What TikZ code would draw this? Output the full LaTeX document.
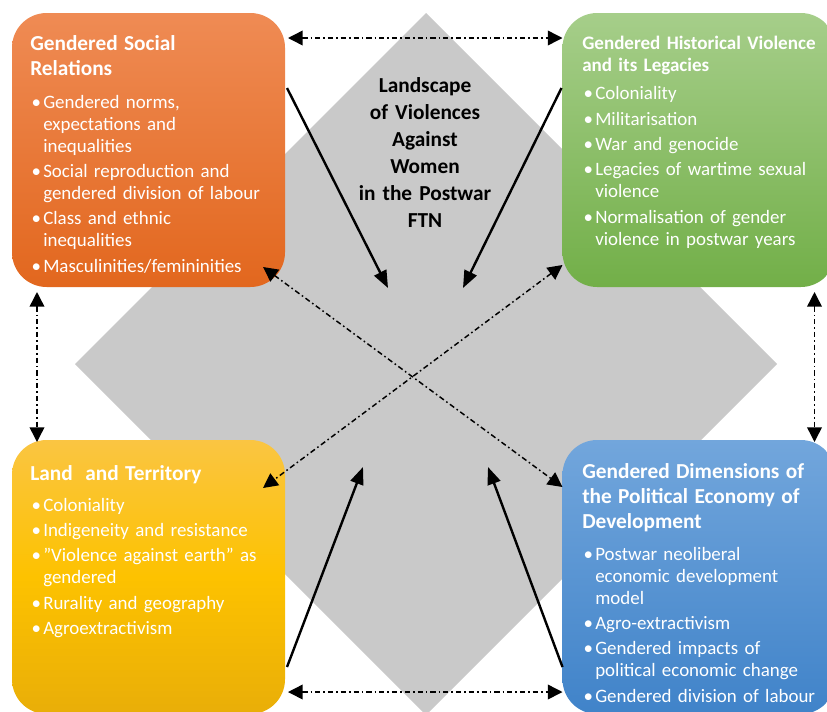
\documentclass[tikz,border=0pt]{standalone}
\usepackage{fontspec}
\setmainfont{Carlito}[WordSpace=0.8]
\usetikzlibrary{arrows.meta,calc}

\definecolor{srtop}{RGB}{239,139,84}
\definecolor{srbot}{RGB}{226,103,30}
\definecolor{hvtop}{RGB}{166,206,138}
\definecolor{hvbot}{RGB}{114,175,72}
\definecolor{lttop}{RGB}{250,197,66}
\definecolor{ltmid}{RGB}{253,194,0}
\definecolor{ltbot}{RGB}{233,174,8}
\definecolor{petop}{RGB}{114,166,220}
\definecolor{pebot}{RGB}{64,131,201}
\definecolor{field}{RGB}{201,201,201}

\setlength{\parindent}{0pt}
% bold heading of a card, #1 = space before the first item
\newcommand{\headsize}{\fontsize{16}{18.75}\selectfont}
\newcommand{\cardhead}[2][7.5pt]{{\bfseries\headsize #2\par}\vspace{#1}}
% one bullet item, wrapped lines hang under the text
\newcommand{\bitem}[1]{\par\hangindent=9.75pt\hangafter=1\noindent
  \makebox[9.75pt][l]{\hspace{1pt}\textbullet}#1\par\vspace{2.5pt}}

\begin{document}
\begin{tikzpicture}[x=0.75pt,y=-0.75pt,
  card/.style={rounded corners=26pt,minimum width=204.75pt,minimum height=205.5pt,
    inner sep=0pt,outer sep=0pt},
  cardtext/.style={anchor=base west,inner sep=0pt,text=white,text width=240pt,
    align=left,font=\fontsize{14.2}{16.5}\selectfont},
  leads/.style={line width=1.8pt,-{Triangle[length=13pt,width=10pt]}},
  link/.style={line width=1.1pt,dash pattern=on 4pt off 2.2pt on 1.2pt off 2.2pt,
    {Triangle[length=11pt,width=11pt]}-{Triangle[length=11pt,width=11pt]}}]
\useasboundingbox (0,0) rectangle (827,711);

% grey field behind everything
\fill[field] (426,13) -- (777,364) -- (426,715) -- (75,364) -- cycle;

% the four cards
\node[card,top color=srtop,bottom color=srbot] (sr) at (148.5,150) {};
\node[card,top color=hvtop,bottom color=hvbot] (hv) at (699,150) {};
\node[card,top color=lttop,bottom color=ltbot,middle color=ltmid] (lt) at (148.5,577) {};
\node[card,top color=petop,bottom color=pebot] (pe) at (699,577) {};

\node[cardtext] (srtext) at (30,50) {%
  \cardhead[8.25pt]{Gendered Social\\Relations}
  \bitem{Gendered norms,\newline expectations and\newline inequalities}
  \bitem{Social reproduction and\newline gendered division of labour}
  \bitem{Class and ethnic\newline inequalities}
  \bitem{Masculinities/femininities}};

\node[cardtext] (hvtext) at (582,49) {%
  \cardhead[4.5pt]{\fontsize{14.3}{17}\selectfont Gendered Historical Violence\\and its Legacies}
  \bitem{Coloniality}
  \bitem{Militarisation}
  \bitem{War and genocide}
  \bitem{Legacies of wartime sexual\newline violence}
  \bitem{Normalisation of gender\newline violence in postwar years}};

\node[cardtext] (lttext) at (30,480) {%
  \cardhead[6.75pt]{Land~ and Territory}
  \bitem{Coloniality}
  \bitem{Indigeneity and resistance}
  \bitem{\char"22 Violence against earth\char"22{} as\newline gendered}
  \bitem{Rurality and geography}
  \bitem{Agroextractivism}};

\node[cardtext] (petext) at (582,478) {%
  \cardhead[7.5pt]{Gendered Dimensions of\\the Political Economy of\\Development}
  \bitem{Postwar neoliberal\newline economic development\newline model}
  \bitem{Agro-extractivism}
  \bitem{Gendered impacts of\newline political economic change}
  \bitem{Gendered division of labour}};

% centre heading
\node[anchor=base,inner sep=0pt,text width=150pt,align=center,
  font=\bfseries\fontsize{16}{20.25}\selectfont] (title) at (425,92)
  {Landscape\\of Violences\\Against\\Women\\in the Postwar\\FTN};

% arrows into the centre
\coordinate (srin) at (388,288);
\coordinate (hvin) at (463,288);
\coordinate (ltin) at (363,467);
\coordinate (pein) at (488,467);
\draw[leads] ($(sr.north east)+(2,75)$) -- (srin);
\draw[leads] ($(hv.north west)+(-1,75)$) -- (hvin);
\draw[leads] ($(lt.south east)+(2,-47)$) -- (ltin);
\draw[leads] ($(pe.south west)+(0,-47)$) -- (pein);

% links between the cards
\draw[link] ($(sr.north east)+(3,25)$) -- ($(hv.north west)+(0,25)$);
\draw[link] ($(lt.south east)+(3,-22)$) -- ($(pe.south west)+(0,-22)$);
\draw[link] ($(sr.south west)+(25,5)$) -- ($(lt.north west)+(25,2)$);
\draw[link] ($(hv.south east)+(-21,5)$) -- ($(pe.north east)+(-21,2)$);
\draw[link] ($(sr.south east)+(-22,-20)$) -- ($(pe.north west)+(0,47)$);
\draw[link] ($(hv.south west)+(0,-22)$) -- ($(lt.north east)+(-22,48)$);
\end{tikzpicture}
\end{document}
